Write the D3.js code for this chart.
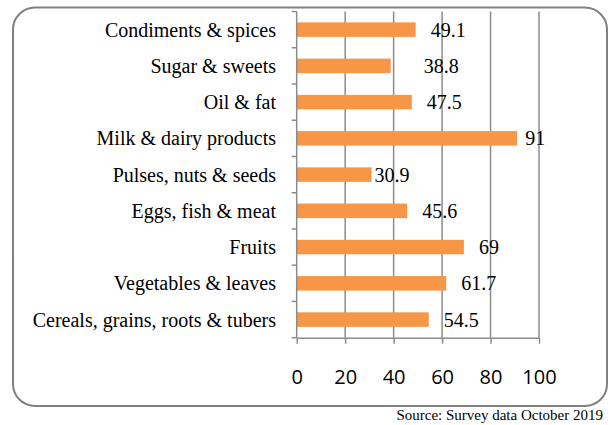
<!DOCTYPE html>
<html>
<head>
<meta charset="utf-8">
<script src="https://cdn.jsdelivr.net/npm/d3@7"></script>
<style>
	body { margin: 0; background: #fff; }
	svg { display: block; }
</style>
</head>
<body>
<svg width="610" height="425"></svg>
<script>
const categories = [
	"Condiments & spices",
	"Sugar & sweets",
	"Oil & fat",
	"Milk & dairy products",
	"Pulses, nuts & seeds",
	"Eggs, fish & meat",
	"Fruits",
	"Vegetables & leaves",
	"Cereals, grains, roots & tubers"
];
const values = [49.1, 38.8, 47.5, 91, 30.9, 45.6, 69, 61.7, 54.5];
const xTicks = [0, 20, 40, 60, 80, 100];
const sourceText = "Source: Survey data October 2019";

// small label nudges, the original labels are not evenly spaced from bar ends
const labelNudge = [0, 18, 0, -7, -12, 0, 0, 0, 0];

const barColour = '#f79646';
const gridColour = '#8c8c8c';
const serif = "'Times New Roman', 'Liberation Serif', serif";

const svg = d3.select("svg");

// frame
svg.append("rect")
	.attr("x", 13).attr("y", 7.5)
	.attr("width", 594).attr("height", 398.5)
	.attr("rx", 22).attr("ry", 22)
	.attr("fill", "none")
	.attr("stroke", "#808080")
	.attr("stroke-width", 2);

const plot = { left: 296.7, right: 539, top: 11.5, bottom: 337.7 };

const x = d3.scaleLinear().domain([0, 100]).range([plot.left, plot.right]);
const y = d3.scaleBand().domain(categories).range([plot.top, plot.bottom]).paddingInner(0.6).paddingOuter(0.3);

// gridlines
svg.append("g").selectAll("line")
	.data(xTicks.slice(1))
	.enter().append("line")
		.attr("x1", d => x(d)).attr("x2", d => x(d))
		.attr("y1", plot.top).attr("y2", plot.bottom)
		.attr("stroke", gridColour)
		.attr("stroke-width", 1.5);

// bars
svg.append("g").selectAll("rect")
	.data(values)
	.enter().append("rect")
		.attr("x", x(0))
		.attr("y", (d, i) => y(categories[i]))
		.attr("width", d => x(d) - x(0))
		.attr("height", y.bandwidth())
		.attr("fill", barColour);

// y axis line and ticks at band edges
const yAxis = svg.append("g");
yAxis.append("line")
	.attr("x1", plot.left).attr("x2", plot.left)
	.attr("y1", plot.top).attr("y2", plot.bottom)
	.attr("stroke", gridColour).attr("stroke-width", 1.5);
const step = (plot.bottom - plot.top) / categories.length;
yAxis.selectAll("line.tick")
	.data(d3.range(categories.length + 1))
	.enter().append("line")
		.attr("class", "tick")
		.attr("x1", plot.left - 5).attr("x2", plot.left)
		.attr("y1", d => plot.top + d * step).attr("y2", d => plot.top + d * step)
		.attr("stroke", gridColour).attr("stroke-width", 1.5);

// category labels
svg.append("g").selectAll("text")
	.data(categories)
	.enter().append("text")
		.attr("x", 276)
		.attr("y", d => y(d) + y.bandwidth() / 2)
		.attr("dy", "0.35em")
		.attr("text-anchor", "end")
		.attr("font-family", serif)
		.attr("font-size", 20)
		.attr("fill", "#000")
		.text(d => d);

// x axis
const xAxis = svg.append("g")
	.attr("transform", `translate(0,${plot.bottom})`)
	.call(d3.axisBottom(x).tickValues(xTicks).tickSize(6).tickPadding(26).tickSizeOuter(0));
xAxis.select(".domain").attr("stroke", gridColour).attr("stroke-width", 1.5);
xAxis.selectAll(".tick line").attr("stroke", gridColour).attr("stroke-width", 1.5);
xAxis.selectAll(".tick text")
	.attr("font-family", "'Open Sans', 'Liberation Sans', sans-serif")
	.attr("font-size", 20)
	.attr("fill", "#000");

// value labels
svg.append("g").selectAll("text")
	.data(values)
	.enter().append("text")
		.attr("x", (d, i) => x(d) + 15 + labelNudge[i])
		.attr("y", (d, i) => y(categories[i]) + y.bandwidth() / 2)
		.attr("dy", "0.35em")
		.attr("font-family", serif)
		.attr("font-size", 20)
		.attr("fill", "#000")
		.text(d => d);

// source
svg.append("text")
	.attr("x", 603).attr("y", 420)
	.attr("text-anchor", "end")
	.attr("font-family", serif)
	.attr("font-size", 15)
	.attr("fill", "#000")
	.text(sourceText);
</script>
</body>
</html>
